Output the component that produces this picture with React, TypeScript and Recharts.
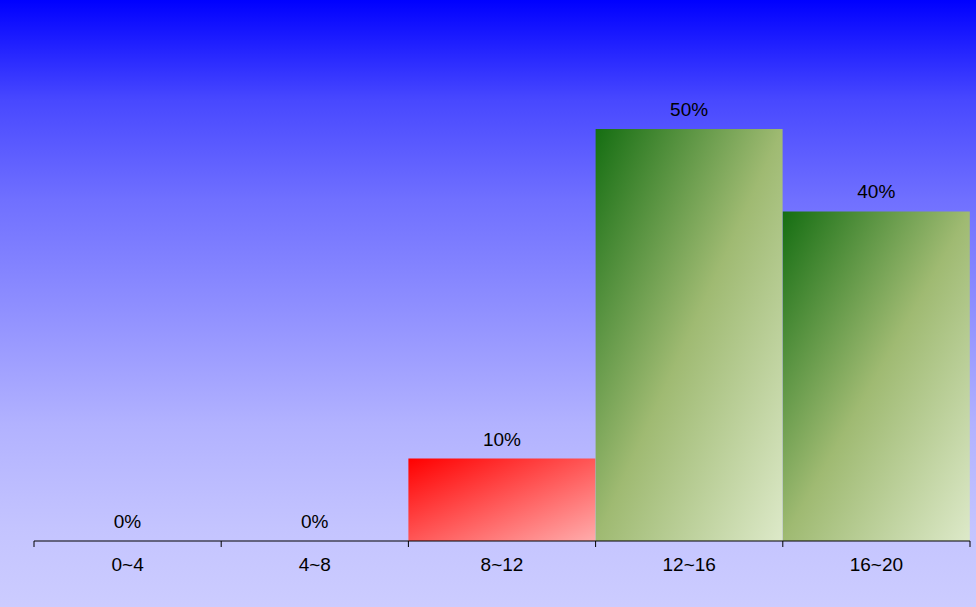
import React from "react";
import { Bar, BarChart, Cell, LabelList, XAxis, YAxis } from "recharts";

// data
const RANGES = ["0~4", "4~8", "8~12", "12~16", "16~20"];
const SHARES = [0, 0, 10, 50, 40];

const data = RANGES.map((range, i) => ({ range, share: SHARES[i] }));

const FONT = "Arial, 'Liberation Sans', sans-serif";
const CHART_W = 976;
const CHART_H = 607;
const MARGIN = { top: 129, right: 6, bottom: 0, left: 34 };
const TICK_SIZE = 6;
const TICK_MARGIN = 11;

// label in the middle of each range, tick marks on the range edges
const RangeTick = (props: any) => {
  const { x, y, payload, index, visibleTicksCount } = props;
  const half =
    payload && typeof payload.offset === "number" && payload.offset > 0
      ? payload.offset
      : (CHART_W - MARGIN.left - MARGIN.right) / RANGES.length / 2;
  const axisY = y - TICK_SIZE - TICK_MARGIN;
  const last = index === (visibleTicksCount ?? RANGES.length) - 1;
  return (
    <g>
      <line x1={x - half} x2={x - half} y1={axisY} y2={axisY + TICK_SIZE} stroke="#000" />
      {last && (
        <line x1={x + half} x2={x + half} y1={axisY} y2={axisY + TICK_SIZE} stroke="#000" />
      )}
      <text
        x={x}
        y={y}
        dy="0.71em"
        textAnchor="middle"
        fill="#000"
        fontSize={19}
        fontFamily={FONT}
      >
        {payload.value}
      </text>
    </g>
  );
};

const App: React.FC = () => {
  return (
    <div
      style={{
        position: "absolute",
        left: 0,
        top: 0,
        width: CHART_W,
        height: CHART_H,
        background:
          "linear-gradient(to bottom, rgb(0,0,255) 0%, rgb(72,72,255) 16.5%, rgb(112,112,255) 33%, rgb(140,140,255) 49%, rgb(178,178,255) 70%, rgb(196,196,255) 87%, rgb(204,204,255) 100%)",
      }}
    >
      <BarChart
        width={CHART_W}
        height={CHART_H}
        data={data}
        barCategoryGap={0}
        margin={MARGIN}
      >
        <defs>
          <linearGradient id="lowFill" x1="0" y1="0" x2="1" y2="1">
            <stop offset="0%" stopColor="#ff0000" />
            <stop offset="100%" stopColor="#ffacac" />
          </linearGradient>
          <linearGradient id="highFill" x1="0" y1="0" x2="1" y2="1">
            <stop offset="0%" stopColor="#156e12" />
            <stop offset="50%" stopColor="#9fba72" />
            <stop offset="100%" stopColor="#dde9c9" />
          </linearGradient>
        </defs>
        <XAxis
          dataKey="range"
          interval={0}
          height={66}
          axisLine={{ stroke: "#000" }}
          tickLine={false}
          tickSize={TICK_SIZE}
          tickMargin={TICK_MARGIN}
          tick={<RangeTick />}
        />
        <YAxis hide domain={[0, 50]} />
        <Bar dataKey="share" minPointSize={0.01} isAnimationActive={false}>
          {SHARES.map((v, i) => (
            <Cell key={`cell-${i}`} fill={v < 20 ? "url(#lowFill)" : "url(#highFill)"} />
          ))}
          <LabelList
            dataKey="share"
            position="top"
            offset={13}
            formatter={(v: any) => `${v}%`}
            fill="#000"
            fontSize={19}
            fontFamily={FONT}
          />
        </Bar>
      </BarChart>
    </div>
  );
};

export default App;
